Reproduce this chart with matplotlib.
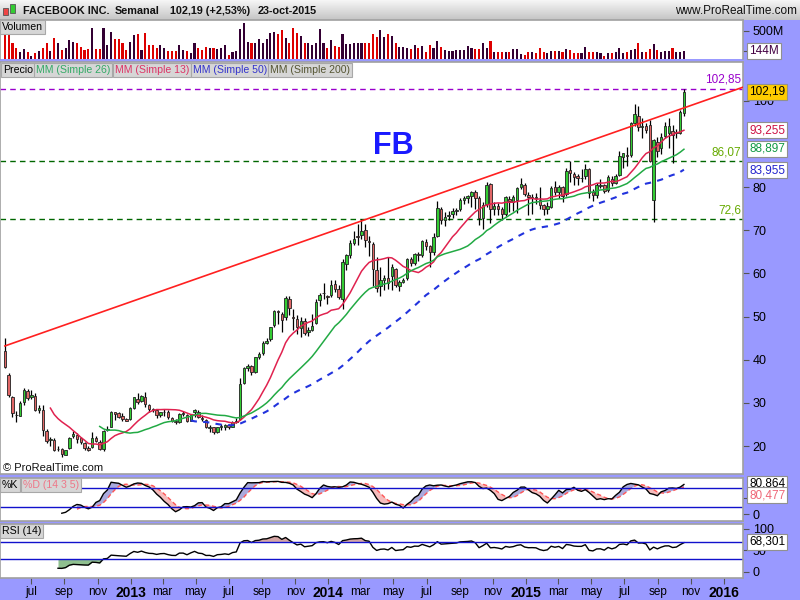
import numpy as np
import pandas as pd
import matplotlib
matplotlib.use("Agg")
import matplotlib.pyplot as plt
import matplotlib.dates as mdates
from datetime import datetime

plt.rcParams['font.family'] = ['Liberation Sans', 'DejaVu Sans']

# weekly candles, FACEBOOK INC., weeks of 14-may-2012 .. 19-oct-2015
opens = [
    42.05, 36.53, 31.37, 27.20, 27.00, 30.17, 32.70, 31.25, 31.50, 28.30,
    28.45, 23.37, 21.50, 21.40, 19.25, 19.30, 18.00, 19.60, 22.30, 22.60,
    21.80, 20.70, 19.50, 19.80, 21.90, 20.95, 19.30, 23.80, 24.50, 27.80,
    27.70, 26.90, 26.30, 26.20, 28.70, 31.00, 30.50, 31.30, 29.50, 28.50,
    28.30, 27.20, 27.80, 28.00, 26.50, 25.70, 25.60, 27.40, 27.30, 25.80,
    27.80, 28.00, 26.60, 26.00, 24.20, 24.30, 23.30, 24.40, 24.50, 24.80,
    24.40, 25.50, 26.20, 34.50, 38.00, 38.50, 37.10, 40.60, 41.50, 44.00,
    44.80, 48.00, 51.20, 50.50, 49.80, 54.20, 50.00, 49.50, 47.30, 49.00,
    46.40, 46.90, 48.50, 53.80, 55.40, 54.70, 54.90, 57.50, 56.40, 54.00,
    62.30, 64.30, 67.00, 68.50, 69.00, 70.00, 67.50, 66.80, 60.80, 57.00,
    58.50, 59.00, 59.50, 61.00, 57.00, 58.00, 59.00, 63.30, 62.50, 64.50,
    64.20, 67.40, 66.30, 65.00, 68.80, 75.00, 72.30, 73.30, 73.80, 74.50,
    75.00, 77.00, 77.40, 78.00, 78.80, 77.50, 72.80, 76.00, 80.80, 75.00,
    75.60, 75.00, 73.80, 77.30, 76.50, 77.00, 80.00, 80.50, 78.20, 77.50,
    77.60, 77.00, 75.80, 75.00, 75.50, 80.00, 79.00, 80.00, 78.40, 84.00,
    83.00, 82.50, 82.20, 82.50, 84.20, 78.80, 78.10, 80.40, 80.50, 79.30,
    82.00, 81.00, 82.80, 87.00, 87.50, 87.50, 95.00, 96.50, 94.00, 94.20,
    94.50, 77.00, 90.50, 89.00, 91.80, 92.60, 93.00, 92.50, 92.60, 97.10,
]
highs = [
    45.00, 36.86, 31.69, 28.23, 30.45, 33.45, 33.20, 32.88, 32.18, 29.60,
    29.55, 23.90, 22.05, 21.80, 20.00, 19.45, 19.10, 22.00, 23.37, 22.95,
    22.00, 21.00, 19.95, 23.23, 22.25, 21.30, 23.60, 24.70, 28.10, 28.00,
    28.00, 27.60, 26.60, 28.93, 31.45, 32.21, 31.90, 32.50, 29.70, 28.90,
    28.50, 28.00, 28.60, 28.30, 26.80, 26.20, 27.60, 28.20, 27.50, 27.40,
    28.50, 28.40, 27.20, 26.20, 24.80, 24.40, 24.50, 25.00, 25.10, 25.00,
    25.80, 26.50, 35.70, 38.30, 39.00, 38.80, 40.60, 41.80, 44.40, 45.00,
    47.60, 51.60, 51.60, 51.00, 54.80, 54.80, 51.70, 50.30, 49.80, 49.60,
    47.60, 50.60, 54.00, 55.50, 57.90, 55.00, 58.40, 58.60, 57.30, 63.40,
    64.60, 67.80, 69.90, 71.40, 72.59, 71.40, 68.70, 67.30, 63.90, 61.60,
    59.70, 63.90, 62.30, 61.30, 58.60, 59.00, 63.60, 63.80, 64.80, 65.00,
    67.70, 68.00, 66.50, 69.50, 76.70, 75.50, 74.20, 74.40, 75.20, 75.10,
    77.50, 78.00, 78.20, 79.20, 79.30, 78.00, 76.60, 81.20, 81.00, 76.60,
    76.40, 75.50, 78.00, 77.90, 78.20, 80.00, 82.17, 81.00, 78.80, 78.50,
    78.60, 80.00, 76.00, 76.50, 80.20, 81.40, 80.50, 80.40, 84.40, 86.07,
    83.50, 83.00, 84.20, 85.40, 84.40, 79.50, 81.00, 82.00, 80.80, 82.80,
    82.60, 83.00, 88.40, 88.00, 89.40, 95.20, 99.24, 98.90, 96.00, 95.00,
    95.50, 91.30, 91.60, 92.60, 95.20, 96.00, 94.50, 93.50, 97.90, 102.85,
]
lows = [
    38.00, 31.36, 26.83, 25.52, 26.90, 29.50, 30.76, 30.90, 28.10, 27.70,
    22.28, 20.72, 20.10, 18.90, 18.75, 17.55, 17.80, 19.40, 21.80, 20.70,
    20.40, 19.00, 18.80, 19.50, 20.90, 19.00, 18.90, 23.40, 24.40, 26.00,
    26.50, 25.80, 25.80, 26.00, 28.60, 29.70, 30.20, 29.00, 28.00, 27.80,
    26.40, 26.80, 26.90, 26.20, 25.50, 25.20, 25.40, 27.00, 25.60, 25.70,
    26.80, 26.60, 25.80, 24.20, 23.20, 22.80, 23.00, 23.60, 23.80, 24.00,
    24.30, 25.30, 26.00, 34.30, 37.40, 36.40, 37.00, 40.10, 41.10, 43.60,
    44.40, 47.50, 48.20, 46.50, 49.20, 50.30, 47.00, 46.00, 45.30, 45.80,
    45.50, 46.70, 48.40, 52.50, 54.00, 53.00, 54.50, 55.70, 54.20, 51.85,
    60.80, 63.50, 66.50, 66.70, 68.00, 66.10, 64.10, 57.00, 55.70, 54.70,
    56.20, 56.50, 56.20, 56.90, 56.00, 57.70, 58.60, 61.80, 62.00, 63.00,
    63.90, 65.50, 61.50, 64.30, 68.40, 71.50, 71.00, 72.30, 72.80, 73.50,
    74.50, 76.20, 76.40, 75.50, 75.00, 71.30, 70.32, 75.50, 71.60, 73.50,
    73.60, 72.50, 73.30, 74.30, 74.40, 74.10, 79.50, 78.00, 73.50, 73.80,
    76.20, 75.00, 73.50, 73.90, 75.20, 78.30, 77.50, 76.50, 78.00, 81.20,
    80.50, 80.60, 81.30, 82.00, 77.60, 76.90, 77.50, 79.80, 78.60, 79.00,
    80.30, 80.70, 82.60, 84.50, 85.00, 87.00, 94.30, 93.00, 91.50, 92.50,
    85.90, 72.00, 87.00, 87.60, 91.50, 89.00, 85.60, 91.50, 92.40, 96.50,
]
closes = [
    38.23, 31.91, 27.72, 27.10, 30.01, 33.05, 31.10, 31.73, 28.25, 28.76,
    23.71, 21.09, 21.60, 19.05, 19.41, 18.06, 18.98, 21.87, 22.86, 21.66,
    20.91, 19.52, 19.00, 21.94, 21.18, 19.21, 23.56, 24.00, 28.00, 27.49,
    26.81, 26.26, 25.91, 28.76, 31.30, 30.14, 31.54, 29.73, 28.55, 28.32,
    27.13, 27.78, 27.96, 26.65, 25.73, 25.58, 27.39, 27.40, 25.73, 27.11,
    28.31, 26.68, 26.25, 24.31, 24.35, 23.29, 24.37, 24.53, 24.88, 24.37,
    25.48, 25.88, 34.36, 38.05, 38.50, 37.08, 40.55, 41.29, 43.95, 44.31,
    47.49, 51.24, 51.04, 49.11, 54.22, 51.95, 49.75, 47.53, 49.01, 46.23,
    47.01, 47.94, 53.32, 55.12, 55.44, 54.56, 57.22, 56.30, 54.45, 62.57,
    64.32, 67.09, 68.06, 68.46, 69.80, 67.72, 67.24, 60.97, 56.75, 58.53,
    58.94, 57.71, 61.48, 57.24, 58.02, 58.53, 63.30, 62.50, 64.50, 64.34,
    67.60, 66.29, 64.97, 68.42, 75.19, 72.36, 73.06, 73.63, 74.57, 74.82,
    77.03, 77.48, 77.91, 78.79, 77.44, 72.91, 75.95, 80.42, 74.99, 75.60,
    74.88, 73.75, 77.70, 76.84, 77.73, 79.88, 80.78, 78.45, 77.74, 77.83,
    77.65, 75.91, 74.99, 75.74, 79.90, 78.97, 80.01, 78.05, 83.80, 83.30,
    82.32, 82.04, 82.04, 84.22, 78.77, 78.10, 80.41, 80.55, 79.19, 82.44,
    80.97, 82.51, 87.23, 87.95, 87.22, 94.97, 96.95, 94.01, 94.30, 93.30,
    86.06, 91.01, 88.40, 91.60, 94.10, 94.30, 92.07, 92.90, 97.54, 102.19,
]
# weekly volume, millions
volumes = [
    424, 424, 289, 188, 118, 171, 118, 59, 100, 147,
    188, 277, 147, 377, 289, 159, 188, 336, 295, 277,
    218, 159, 177, 554, 177, 177, 554, 247, 471, 353,
    353, 277, 159, 306, 424, 442, 159, 465, 247, 247,
    188, 247, 188, 147, 147, 147, 247, 159, 147, 112,
    289, 188, 159, 218, 200, 200, 171, 188, 247, 71,
    130, 141, 530, 642, 295, 277, 277, 348, 277, 348,
    453, 483, 442, 512, 365, 289, 554, 453, 406, 289,
    277, 247, 277, 524, 277, 188, 336, 230, 218, 436,
    259, 259, 289, 289, 277, 277, 277, 442, 383, 512,
    383, 442, 406, 289, 218, 218, 200, 171, 247, 188,
    230, 130, 247, 200, 318, 218, 159, 147, 147, 159,
    159, 159, 230, 188, 177, 177, 289, 188, 324, 130,
    130, 118, 118, 130, 171, 171, 82, 71, 118, 118,
    100, 200, 130, 100, 147, 141, 141, 130, 171, 159,
    100, 100, 112, 218, 130, 118, 118, 100, 59, 100,
    100, 130, 188, 112, 130, 159, 171, 277, 130, 118,
    177, 259, 159, 118, 141, 141, 200, 130, 118, 144,
]

# support / resistance drawn on the chart
trend_dates = ["2012-05-14", "2016-02-05"]
trend_prices = [43.2, 103.2]
levels = [102.85, 86.07, 72.6]
level_labels = ["102,85", "86,07", "72,6"]

# last values shown in the right-hand boxes
last_close = "102,19"
sma_labels = {13: "93,255", 26: "88,897", 50: "83,955"}
sma_last = {13: 93.255, 26: 88.897, 50: 83.955}
stoch_k_last, stoch_d_last = "80,864", "80,477"
rsi_last = "68,301"

dates = pd.date_range("2012-05-14", periods=len(closes), freq="W-MON")
x = mdates.date2num(dates.to_pydatetime())
o = np.array(opens); h = np.array(highs); l = np.array(lows); c = np.array(closes)
cs = pd.Series(c)

BLUE_BG = "#9999ff"
FRAME = "#a0a0a0"
W, H = 800, 600
PMIN, PMAX = 13.51, 109.04


def rect(px, py, pw, ph):
    return [px / W, 1 - (py + ph) / H, pw / W, ph / H]


def fpos(px, py):
    return px / W, 1 - py / H


fig = plt.figure(figsize=(8, 6), dpi=100, facecolor=BLUE_BG)
xmin = mdates.date2num(datetime(2012, 5, 5))
xmax = mdates.date2num(datetime(2016, 2, 5))


def panel(r):
    ax = fig.add_axes(rect(*r))
    ax.set_facecolor("white")
    for s in ax.spines.values():
        s.set_color(FRAME)
        s.set_linewidth(1.2)
    ax.set_xlim(xmin, xmax)
    ax.tick_params(axis="x", bottom=False, labelbottom=False)
    ax.tick_params(axis="y", left=False, labelleft=False, right=True, labelright=True,
                   direction="out", length=4, color="#555555",
                   labelsize=9, pad=3, labelcolor="black")
    return ax


# header bar
hdr = fig.add_axes(rect(0, 0, 800, 20))
grad = np.linspace(0, 1, 50).reshape(-1, 1)
hdr.imshow(grad, aspect="auto", cmap=matplotlib.colors.LinearSegmentedColormap.from_list(
    "g", ["#f6f6f6", "#c4c4c4"]), extent=[0, 1, 0, 1])
hdr.set_xlim(0, 1); hdr.set_ylim(0, 1); hdr.axis("off")
fig.patches.append(matplotlib.patches.Rectangle(fpos(3, 15), 5 / W, 7 / H, transform=fig.transFigure,
                                                fc="#ee4444", ec="#555555", lw=0.6))
fig.patches.append(matplotlib.patches.Rectangle(fpos(10, 13), 5 / W, 9 / H, transform=fig.transFigure,
                                                fc="#33cc33", ec="#555555", lw=0.6))
hy = 11
for tx, s in [(23, "FACEBOOK INC."), (115, "Semanal"), (170, "102,19 (+2,53%)"), (258, "23-oct-2015")]:
    fig.text(*fpos(tx, hy), s, fontsize=7.8, fontweight="bold", va="center", color="#111111")
fig.text(*fpos(797, hy), "www.ProRealTime.com", fontsize=8.5, ha="right", va="center", color="#111111")

# volume panel
axv = panel((0, 20, 743, 39))
vcol = ["#dd0000" if (c[i] < (c[i - 1] if i else o[i])) else "#330033" for i in range(len(c))]
axv.bar(x, volumes, width=3.9, color=vcol, linewidth=0)
axv.set_ylim(0, 689)
axv.set_yticks([144, 500])
axv.set_yticklabels(["", "500M"])
axv.spines["bottom"].set_visible(False)

# price panel
ax = panel((0, 62, 743, 412))
ax.set_ylim(PMIN, PMAX)
ax.set_yticks([20, 30, 40, 50, 60, 70, 80, 100])
up = c >= o
body_lo = np.minimum(o, c)
body_h = np.maximum(np.abs(c - o), 0.15)
ax.vlines(x, l, h, color="black", lw=0.9, zorder=2)
ax.bar(x, body_h, bottom=body_lo, width=4.6,
       color=np.where(up, "#33cc33", "#e06666"), edgecolor="#222222", linewidth=0.6, zorder=3)

sma_col = {13: "#e0224f", 26: "#22aa44", 50: "#2233dd"}
for n in (13, 26):
    ax.plot(x, cs.rolling(n).mean(), color=sma_col[n], lw=1.1, zorder=4)
ax.plot(x, cs.rolling(50).mean(), color=sma_col[50], lw=1.5, ls=(0, (3, 3)), zorder=4)

tx = mdates.date2num(pd.to_datetime(trend_dates).to_pydatetime())
ax.plot(tx, trend_prices, color="#ff2020", lw=1.2, zorder=5)
lev_col = ["#9900cc", "#006600", "#006600"]
lab_col = ["#9900cc", "#66aa00", "#66aa00"]
for v, s, lc, tc in zip(levels, level_labels, lev_col, lab_col):
    ax.axhline(v, color=lc, lw=1.0, ls=(0, (4, 3)), zorder=1)
    ax.text(xmax - 3, v + 0.7, s, color=tc, fontsize=8.5, ha="right", va="bottom")

ax.text(mdates.date2num(datetime(2014, 5, 1)), 87.7, "FB", color="#1a1aff",
        fontsize=22, fontweight="bold", ha="center", va="baseline")
fig.text(*fpos(3, 468), "© ProRealTime.com", fontsize=8, va="center", color="#111111")

# legend boxes
box = dict(boxstyle="square,pad=0.18", fc="#d6d6d6", ec="#a8a8a8", lw=0.8)
for bx, s, col in [(3, "Precio", "black"), (36, "MM (Simple 26)", "#33aa66"),
                   (115, "MM (Simple 13)", "#dd3366"), (193, "MM (Simple 50)", "#3333cc"),
                   (270, "MM (Simple 200)", "#555533")]:
    fig.text(*fpos(bx, 70), s, fontsize=7.6, color=col, va="center", bbox=box)
fig.text(*fpos(2, 27), "Volumen", fontsize=7.6, color="black", va="center", bbox=box)


# right-hand value boxes
def vbox(py, s, tc, fc="white"):
    fig.text(*fpos(749, py), s, fontsize=8.5, color=tc, va="center",
             bbox=dict(boxstyle="square,pad=0.15", fc=fc, ec="#909090", lw=0.8))


vbox(51, "144M", "#440044")
vbox(92, last_close, "black", "#ffcc00")
for n, tc in [(13, "#cc1144"), (26, "#119944"), (50, "#2222cc")]:
    py = 62 + (PMAX - sma_last[n]) / (PMAX - PMIN) * 412
    vbox(py, sma_labels[n], tc)

# stochastic panel
axs = panel((0, 478, 743, 43))
hh = pd.Series(h).rolling(14).max()
ll = pd.Series(l).rolling(14).min()
raw = 100 * (cs - ll) / (hh - ll)
k = raw.rolling(3).mean()
d = k.rolling(5).mean()
axs.fill_between(x, k, d, where=(k >= d), interpolate=True, color="#aaaadd", lw=0)
axs.fill_between(x, k, d, where=(k < d), interpolate=True, color="#f5bcbc", lw=0)
axs.plot(x, d, color="#ff5555", lw=1.0, ls=(0, (3, 2)))
axs.plot(x, k, color="black", lw=1.0)
for v in (80, 20):
    axs.axhline(v, color="#1111cc", lw=1.0)
axs.set_ylim(-21, 109)
axs.set_yticks([0, 50])
fig.text(*fpos(2, 485), "%K", fontsize=7.6, color="black", va="center", bbox=box)
fig.text(*fpos(23, 485), "%D (14 3 5)", fontsize=7.6, color="#ee7788", va="center", bbox=box)
vbox(484, stoch_k_last, "black")
vbox(495, stoch_d_last, "#ee6677")

# RSI panel
axr = panel((0, 524, 743, 54))
delta = cs.diff()
gain = delta.clip(lower=0).ewm(alpha=1 / 14, adjust=False, min_periods=14).mean()
loss = (-delta.clip(upper=0)).ewm(alpha=1 / 14, adjust=False, min_periods=14).mean()
rsi = 100 - 100 / (1 + gain / loss)
axr.fill_between(x, rsi, 70, where=(rsi > 70), interpolate=True, color="#d4a4a4", lw=0)
axr.fill_between(x, rsi, 30, where=(rsi < 30), interpolate=True, color="#8fc08f", lw=0)
axr.plot(x, rsi, color="black", lw=1.0)
for v in (70, 30):
    axr.axhline(v, color="#1111cc", lw=1.0)
axr.set_ylim(-14, 111.6)
axr.set_yticks([0, 50, 100])
fig.text(*fpos(2, 531), "RSI (14)", fontsize=7.6, color="black", va="center", bbox=box)
vbox(542, rsi_last, "black")

# month axis
ticks, labels = [], []
for yr in range(2012, 2017):
    for m in (1, 3, 5, 7, 9, 11):
        dt = datetime(yr, m, 1)
        if datetime(2012, 6, 1) < dt < datetime(2016, 2, 1):
            ticks.append(mdates.date2num(dt))
            labels.append(str(yr) if m == 1 else ["mar", "may", "jul", "sep", "nov"][(m - 3) // 2])
axr.set_xticks(ticks)
axr.set_xticklabels(labels)
axr.tick_params(axis="x", bottom=True, labelbottom=True, direction="out", length=4,
                color="#555555", labelsize=8.5, pad=2)
for t in axr.get_xticklabels():
    if t.get_text().isdigit():
        t.set_fontweight("bold")
        t.set_fontsize(10)

fig.savefig("out.png", dpi=100, facecolor=BLUE_BG)
